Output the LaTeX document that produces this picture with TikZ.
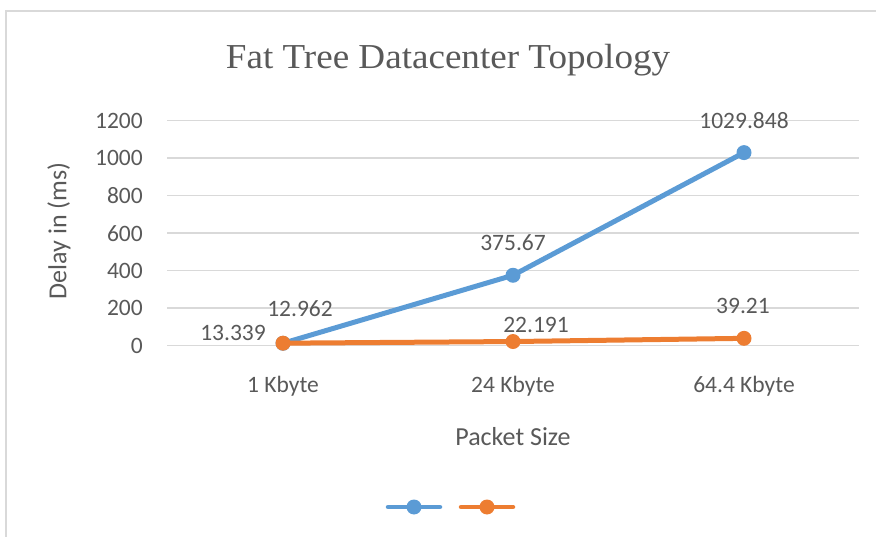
\documentclass[tikz,border=0pt]{standalone}
\usepackage{fontspec}
\setmainfont{Carlito}
\newfontfamily\titlefont{Liberation Serif}
\definecolor{txt}{HTML}{595959}
\definecolor{gridc}{HTML}{D9D9D9}
\definecolor{serA}{HTML}{5B9BD5}
\definecolor{serB}{HTML}{ED7D31}
\begin{document}
\begin{tikzpicture}[x=1pt,y=-1pt,
  gridline/.style={gridc, line width=1.5pt},
  frameline/.style={gridc, line width=2pt},
  ticklabel/.style={font=\fontsize{23.5}{28}\selectfont, text=txt, inner sep=0pt},
  datalabel/.style={font=\fontsize{23.5}{28}\selectfont, text=txt, inner sep=0pt},
  axtitle/.style={font=\fontsize{26}{31}\selectfont, text=txt, inner sep=0pt},
  lineA/.style={serA, line width=5pt, line cap=round, line join=round},
  lineB/.style={serB, line width=5pt, line cap=round, line join=round},
  dotA/.style={circle, fill=serA, minimum size=15pt, inner sep=0pt},
  dotB/.style={circle, fill=serB, minimum size=15pt, inner sep=0pt}]
\useasboundingbox (0,0) rectangle (876,537);
% chart frame (only top and left edges fall inside the page)
\draw[frameline] (6,537) -- (6,11) -- (876,11);
% title
\node[font=\titlefont\fontsize{35}{40}\selectfont, text=txt, xscale=1.06, anchor=base] (title) at (448,69) {Fat Tree Datacenter Topology};
% horizontal grid and value axis labels
\foreach \v in {0,200,...,1200}{
  \draw[gridline] (167,{345.7-\v*0.1875}) -- (859,{345.7-\v*0.1875});
  \node[ticklabel, anchor=east] (tick\v) at (143,{345.7-\v*0.1875}) {\v};
}
% category labels
\node[ticklabel] (cat1) at (283,386) {1 Kbyte};
\node[ticklabel] (cat2) at (513,386) {24 Kbyte};
\node[ticklabel] (cat3) at (744,386) {64.4 Kbyte};
% axis titles
\node[axtitle, rotate=90] (ytitle) at (59,231) {Delay in (ms)};
\node[axtitle] (xtitle) at (513,437) {Packet Size};
% data points
\coordinate (a1) at (283,{345.7-12.962*0.1875});
\coordinate (a2) at (513,{345.7-375.67*0.1875});
\coordinate (a3) at (744,{345.7-1029.848*0.1875});
\coordinate (b1) at (283,{345.7-13.339*0.1875});
\coordinate (b2) at (513,{345.7-22.191*0.1875});
\coordinate (b3) at (744,{345.7-39.21*0.1875});
% series A
\draw[lineA] (a1) -- (a2) -- (a3);
\node[dotA] (pa1) at (a1) {};
\node[dotA] (pa2) at (a2) {};
\node[dotA] (pa3) at (a3) {};
% series B
\draw[lineB] (b1) -- (b2) -- (b3);
\node[dotB] (pb1) at (b1) {};
\node[dotB] (pb2) at (b2) {};
\node[dotB] (pb3) at (b3) {};
% data labels
\node[datalabel] (la1) at (300,309) {12.962};
\node[datalabel] (la2) at (513,243) {375.67};
\node[datalabel] (la3) at (744,121) {1029.848};
\node[datalabel] (lb1) at (233,333) {13.339};
\node[datalabel] (lb2) at (536,325) {22.191};
\node[datalabel] (lb3) at (743,306) {39.21};
% legend
\coordinate (legA1) at (388,507);
\coordinate (legA2) at (440,507);
\coordinate (legB1) at (461,507);
\coordinate (legB2) at (513,507);
\draw[lineA, line width=4.5pt] (legA1) -- (legA2);
\node[dotA] (legAdot) at (414,507) {};
\draw[lineB, line width=4.5pt] (legB1) -- (legB2);
\node[dotB] (legBdot) at (487,507) {};
\end{tikzpicture}
\end{document}
